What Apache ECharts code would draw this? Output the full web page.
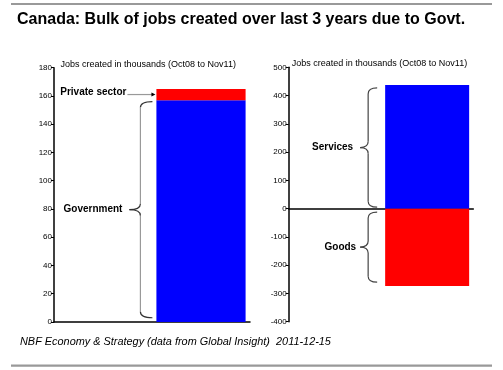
<!DOCTYPE html>
<html><head><meta charset="utf-8">
<script src="https://cdn.jsdelivr.net/npm/echarts@6/dist/echarts.min.js"></script>
<style>html,body{margin:0;padding:0;background:#fff}#c{width:503px;height:370px}</style>
</head><body><div id="c"></div>
<script>
// ---- data ----
const leftCategories = ['', 'Total'];
const governmentJobs = [null, 157];
const privateJobs = [null, 8];
const rightCategories = ['', 'Total'];
const servicesJobs = [null, 437];
const goodsJobs = [null, -274];
const axisTitle = 'Jobs created in thousands (Oct08 to Nov11)';
const titleText = 'Canada: Bulk of jobs created over last 3 years due to Govt.';
const footerText = 'NBF Economy & Strategy (data from Global Insight)  2011-12-15';

const narrow = '"Liberation Sans Narrow","Arial Narrow","Liberation Sans",sans-serif';
const sans = '"Liberation Sans",Arial,sans-serif';
const chart = echarts.init(document.getElementById('c'));

const yAxisCommon = {
  axisLine: {show: true, lineStyle: {color: '#000', width: 1.5}},
  axisTick: {show: true, length: 3, lineStyle: {color: '#000'}},
  axisLabel: {fontFamily: narrow, fontSize: 8, color: '#000', margin: 2},
  splitLine: {show: false}
};
const xAxisCommon = {
  type: 'category',
  axisLine: {show: true, lineStyle: {color: '#000', width: 1.5}},
  axisTick: {show: false}, axisLabel: {show: false}
};
const BW = 0.91;
chart.setOption({
  animation: false,
  backgroundColor: '#fff',
  grid: [
    {left: 54, top: 67.7, width: 196, height: 254.3},
    {left: 288.7, top: 67.3, width: 184.6, height: 254.4}
  ],
  xAxis: [
    Object.assign({gridIndex: 0, data: leftCategories}, xAxisCommon),
    Object.assign({gridIndex: 1, data: rightCategories}, xAxisCommon)
  ],
  yAxis: [
    Object.assign({gridIndex: 0, type: 'value', min: 0, max: 180, interval: 20}, yAxisCommon),
    Object.assign({gridIndex: 1, type: 'value', min: -400, max: 500, interval: 100}, yAxisCommon)
  ],
  series: [
    {type: 'bar', name: 'Government', xAxisIndex: 0, yAxisIndex: 0, stack: 'L', data: governmentJobs, barWidth: (BW*100)+'%', itemStyle: {color: '#0000ff'}},
    {type: 'bar', name: 'Private sector', xAxisIndex: 0, yAxisIndex: 0, stack: 'L', data: privateJobs, barWidth: (BW*100)+'%', itemStyle: {color: '#ff0000'}},
    {type: 'bar', name: 'Services', xAxisIndex: 1, yAxisIndex: 1, stack: 'R', data: servicesJobs, barWidth: (BW*100)+'%', itemStyle: {color: '#0000ff'}},
    {type: 'bar', name: 'Goods', xAxisIndex: 1, yAxisIndex: 1, stack: 'R', data: goodsJobs, barWidth: (BW*100)+'%', itemStyle: {color: '#ff0000'}}
  ]
});

function px(gi, i, v) { return chart.convertToPixel({gridIndex: gi}, [i, v]); }
function band(gi) { return px(gi, 1, 0)[0] - px(gi, 0, 0)[0]; }
function barLeft(gi) { return px(gi, 1, 0)[0] - band(gi) * BW / 2; }
function axisX(gi) { return px(gi, 0, 0)[0] - band(gi) / 2; }

const g = [];
function brace(xEnd, xv, xp, yTop, yBot, endColor, midColor) {
  const yMid = (yTop + yBot) / 2, r = 6;
  const se = {stroke: endColor, lineWidth: 1.2, fill: null};
  const sm = {stroke: midColor, lineWidth: 1.2, fill: null};
  g.push({type: 'bezierCurve', shape: {x1: xEnd, y1: yTop, cpx1: xv, cpy1: yTop, x2: xv, y2: yTop + r}, style: se});
  g.push({type: 'line', shape: {x1: xv, y1: yTop + r, x2: xv, y2: yMid - r}, style: sm});
  g.push({type: 'bezierCurve', shape: {x1: xv, y1: yMid - r, cpx1: xv, cpy1: yMid, x2: xp, y2: yMid}, style: se});
  g.push({type: 'bezierCurve', shape: {x1: xp, y1: yMid, cpx1: xv, cpy1: yMid, x2: xv, y2: yMid + r}, style: se});
  g.push({type: 'line', shape: {x1: xv, y1: yMid + r, x2: xv, y2: yBot - r}, style: sm});
  g.push({type: 'bezierCurve', shape: {x1: xv, y1: yBot - r, cpx1: xv, cpy1: yBot, x2: xEnd, y2: yBot}, style: se});
}
g.push({type: 'rect', shape: {x: 11, y: 3, width: 481, height: 2}, style: {fill: '#999'}});
g.push({type: 'rect', shape: {x: 11, y: 364.5, width: 481, height: 2.2}, style: {fill: '#999'}});
g.push({type: 'text', x: 17, y: 20, style: {text: titleText, font: 'bold 16px ' + sans, fill: '#000', textVerticalAlign: 'middle'}});
g.push({type: 'text', x: 20, y: 341.5, style: {text: footerText, font: 'italic 10.9px ' + sans, fill: '#000', textVerticalAlign: 'middle'}});
// axis titles
const yTopL = px(0, 0, 180)[1], yTopR = px(1, 0, 500)[1];
g.push({type: 'text', x: axisX(0) + 6.5, y: yTopL - 3.5, style: {text: axisTitle, font: '9px ' + narrow, fill: '#000', textVerticalAlign: 'middle'}});
g.push({type: 'text', x: axisX(1) + 3, y: yTopR - 3.5, style: {text: axisTitle, font: '9px ' + narrow, fill: '#000', textVerticalAlign: 'middle'}});

// left annotations
const bl = barLeft(0);
const gov = governmentJobs[1], prv = privateJobs[1];
const yGovTop = px(0, 1, gov - 1)[1], yGovBot = px(0, 1, 3)[1];
brace(bl - 4, bl - 16, bl - 27, yGovTop, yGovBot, '#333', '#999');
g.push({type: 'text', x: bl - 34, y: (yGovTop + yGovBot) / 2, style: {text: 'Government', font: 'bold 10px ' + sans, fill: '#000', textAlign: 'right', textVerticalAlign: 'middle'}});
const yPrv = px(0, 1, gov + prv / 2)[1];
g.push({type: 'line', shape: {x1: bl - 29, y1: yPrv, x2: bl - 4, y2: yPrv}, style: {stroke: '#999', lineWidth: 1.2}});
g.push({type: 'polygon', shape: {points: [[bl - 1, yPrv], [bl - 5, yPrv - 2], [bl - 5, yPrv + 2]]}, style: {fill: '#000'}});
g.push({type: 'text', x: bl - 30, y: yPrv - 2, style: {text: 'Private sector', font: 'bold 10px ' + sans, fill: '#000', textAlign: 'right', textVerticalAlign: 'middle'}});

// right annotations
const br = barLeft(1);
const sv = servicesJobs[1], gd = goodsJobs[1];
const ySvTop = px(1, 1, sv - 10)[1], ySvBot = px(1, 1, 5)[1];
brace(br - 8, br - 17, br - 25, ySvTop, ySvBot, '#444', '#444');
g.push({type: 'text', x: br - 32, y: (ySvTop + ySvBot) / 2, style: {text: 'Services', font: 'bold 10px ' + sans, fill: '#000', textAlign: 'right', textVerticalAlign: 'middle'}});
const yGdTop = px(1, 1, -12)[1], yGdBot = px(1, 1, gd + 14)[1];
brace(br - 8, br - 17, br - 25, yGdTop, yGdBot, '#444', '#444');
g.push({type: 'text', x: br - 29, y: (yGdTop + yGdBot) / 2, style: {text: 'Goods', font: 'bold 10px ' + sans, fill: '#000', textAlign: 'right', textVerticalAlign: 'middle'}});

chart.setOption({graphic: g});
</script></body></html>
